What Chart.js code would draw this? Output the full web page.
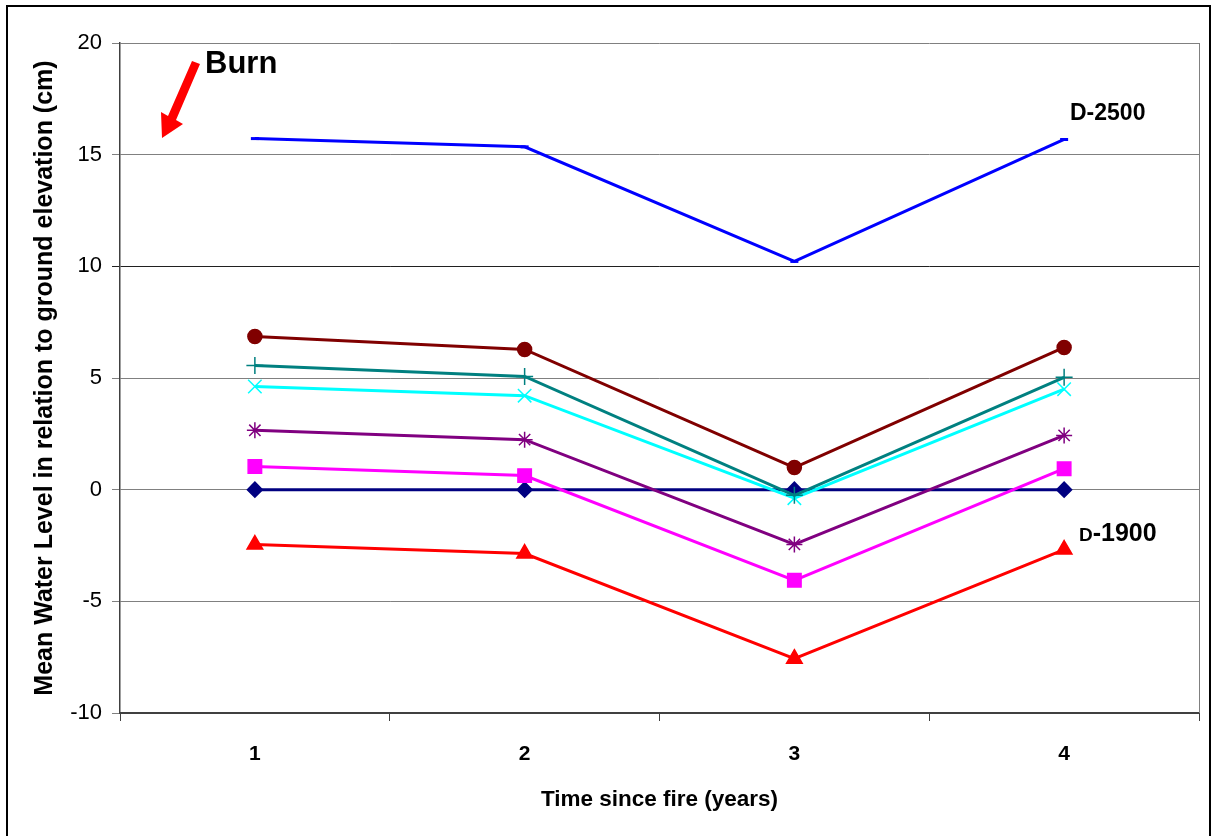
<!DOCTYPE html>
<html>
<head>
<meta charset="utf-8">
<script src="https://cdn.jsdelivr.net/npm/chart.js@4"></script>
<style>
  html, body { margin: 0; padding: 0; background: #ffffff; }
  #wrap { width: 1213px; height: 836px; position: relative; }
</style>
</head>
<body>
<div id="wrap"><canvas id="c" width="1213" height="836"></canvas></div>
<script>
// ---- data ----
const years = ['1', '2', '3', '4'];
const yTicks = [-10, -5, 0, 5, 10, 15, 20];

const d2500      = [15.72, 15.35, 10.22, 15.68];  // blue, D-2500
const seriesCirc = [6.86, 6.28, 0.99, 6.37];      // dark red circles
const seriesPlus = [5.56, 5.07, -0.25, 5.03];     // teal plus
const seriesX    = [4.62, 4.21, -0.38, 4.50];     // cyan cross
const seriesStar = [2.66, 2.24, -2.45, 2.43];     // purple star
const seriesSq   = [1.04, 0.63, -4.06, 0.94];     // magenta square
const seriesDia  = [0, 0, 0, 0];                  // navy diamond
const d1900      = [-2.46, -2.86, -7.57, -2.68];  // red triangle, D-1900

const yTitle = 'Mean Water Level in relation to ground elevation (cm)';
const xTitle = 'Time since fire (years)';

function ds(data, color, style, radius, extra) {
  return Object.assign({
    data: data,
    borderColor: color,
    backgroundColor: color,
    pointBackgroundColor: color,
    pointBorderColor: color,
    borderWidth: 3,
    pointStyle: style,
    pointRadius: radius,
    pointBorderWidth: 1.5,
    tension: 0,
    fill: false
  }, extra || {});
}

const annotations = {
  id: 'annotations',
  afterDraw(chart) {
    const ctx = chart.ctx;
    const area = chart.chartArea;
    ctx.save();
    // right border of plot area
    ctx.strokeStyle = '#808080';
    ctx.lineWidth = 1;
    ctx.beginPath();
    ctx.moveTo(area.right + 0.5, area.top);
    ctx.lineTo(area.right + 0.5, area.bottom);
    ctx.stroke();
    // outer frame
    ctx.strokeStyle = '#000000';
    ctx.lineWidth = 2;
    ctx.beginPath();
    ctx.moveTo(7, 840);
    ctx.lineTo(7, 6);
    ctx.lineTo(1210, 6);
    ctx.lineTo(1210, 840);
    ctx.stroke();
    // Burn arrow
    ctx.fillStyle = '#ff0000';
    ctx.beginPath();
    ctx.moveTo(192, 61);
    ctx.lineTo(200, 64);
    ctx.lineTo(176, 120);
    ctx.lineTo(183, 124);
    ctx.lineTo(162, 138);
    ctx.lineTo(161, 112);
    ctx.lineTo(168, 116);
    ctx.closePath();
    ctx.fill();
    // texts
    ctx.fillStyle = '#000000';
    ctx.textBaseline = 'alphabetic';
    ctx.textAlign = 'left';
    ctx.font = 'bold 31px "Liberation Sans", Arial, sans-serif';
    ctx.fillText('Burn', 205, 73);
    ctx.font = 'bold 23px "Liberation Sans", Arial, sans-serif';
    ctx.fillText('D-2500', 1070, 120);
    ctx.font = 'bold 19px "Liberation Sans", Arial, sans-serif';
    ctx.fillText('D', 1079, 541);
    const dw = ctx.measureText('D').width;
    ctx.font = 'bold 25px "Liberation Sans", Arial, sans-serif';
    ctx.fillText('-1900', 1079 + dw, 541);
    ctx.restore();
  }
};

new Chart(document.getElementById('c'), {
  type: 'line',
  data: {
    labels: years,
    datasets: [
      ds(d2500, '#0000ff', 'line', 4, { pointBorderWidth: 3 }),
      ds(seriesCirc, '#800000', 'circle', 7),
      ds(seriesPlus, '#008080', 'cross', 8.5),
      ds(seriesX, '#00ffff', 'crossRot', 9.5),
      ds(seriesStar, '#800080', 'star', 8),
      ds(seriesSq, '#ff00ff', 'rect', 9.5),
      ds(seriesDia, '#000080', 'rectRot', 7.5),
      ds(d1900, '#ff0000', 'triangle', 9)
    ]
  },
  options: {
    responsive: false,
    devicePixelRatio: 1,
    animation: false,
    layout: { padding: { top: 43, right: 14, left: 0, bottom: 0 } },
    plugins: {
      legend: { display: false },
      tooltip: { enabled: false }
    },
    scales: {
      x: {
        type: 'category',
        offset: true,
        afterFit(scale) { scale.height = 836 - 713; },
        grid: {
          offset: true,
          drawOnChartArea: false,
          drawTicks: true,
          tickLength: 8,
          color: '#404040',
          lineWidth: 1
        },
        border: { display: true, color: '#404040', width: 2 },
        ticks: {
          color: '#000000',
          padding: 21,
          font: { family: '"Liberation Sans", Arial, sans-serif', size: 21, weight: 'bold' }
        },
        title: {
          display: true,
          text: xTitle,
          color: '#000000',
          padding: { top: 0, bottom: 23 },
          font: { family: '"Liberation Sans", Arial, sans-serif', size: 22.5, weight: 'bold' }
        }
      },
      y: {
        min: -10,
        max: 20,
        afterFit(scale) { scale.width = 120; },
        afterBuildTicks(scale) { scale.ticks = yTicks.map(v => ({ value: v })); },
        grid: {
          drawTicks: true,
          tickLength: 8,
          color: (c) => c.tick && c.tick.value === 10 ? '#202020' : '#808080',
          lineWidth: 1
        },
        border: { display: true, color: '#404040', width: 1.5 },
        ticks: {
          color: '#000000',
          padding: 10,
          font: { family: '"Liberation Sans", Arial, sans-serif', size: 22 }
        },
        title: {
          display: true,
          text: yTitle,
          color: '#000000',
          padding: { top: 30, bottom: 0 },
          font: { family: '"Liberation Sans", Arial, sans-serif', size: 25, weight: 'bold' }
        }
      }
    }
  },
  plugins: [annotations]
});
</script>
</body>
</html>
